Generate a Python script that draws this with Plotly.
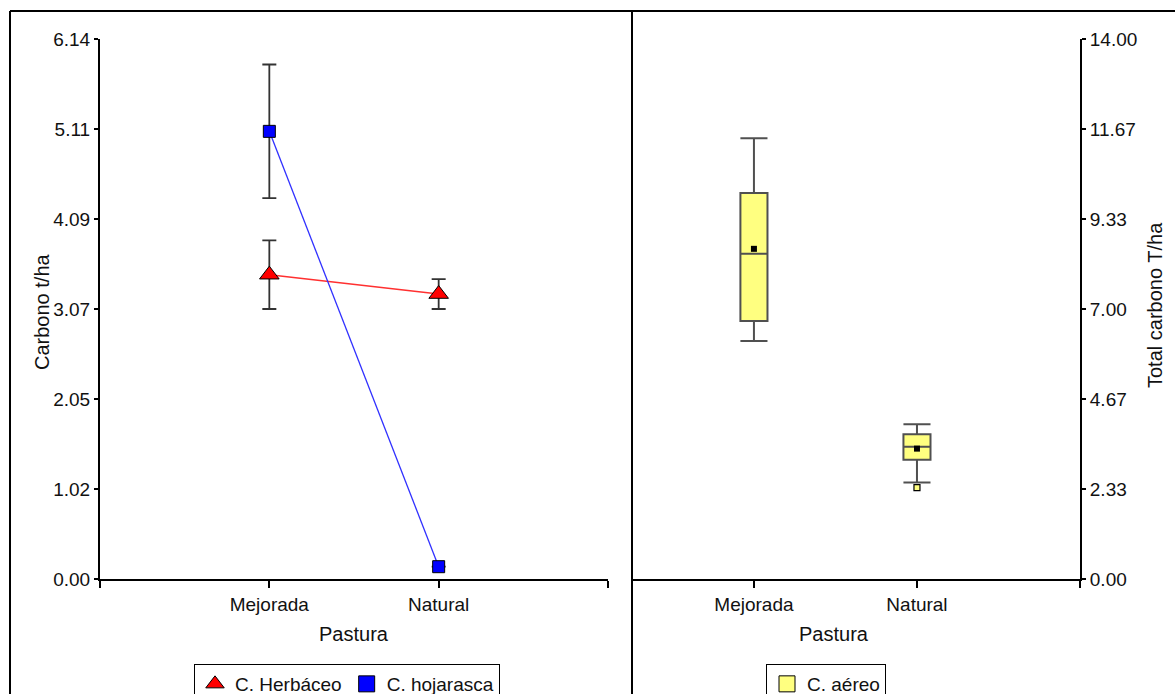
import plotly.graph_objects as go

# ---- data ----
pastura = ["Mejorada", "Natural"]
pastura_pos = [1, 2]

herbaceo_mean = [3.46, 3.24]
herbaceo_err = [0.39, 0.17]
hojarasca_mean = [5.09, 0.14]
hojarasca_err = [0.76, 0.0]

aereo_lower = [6.17, 2.50]
aereo_q1 = [6.69, 3.09]
aereo_median = [8.43, 3.43]
aereo_q3 = [10.01, 3.75]
aereo_upper = [11.43, 4.01]
aereo_mean = [8.56, 3.38]
aereo_outlier_pos = [2]
aereo_outlier = [2.37]

left_tick_vals = [0, 6.14 / 6, 2 * 6.14 / 6, 3 * 6.14 / 6, 4 * 6.14 / 6, 5 * 6.14 / 6, 6.14]
left_tick_text = ["0.00", "1.02", "2.05", "3.07", "4.09", "5.11", "6.14"]
right_tick_vals = [0, 14 / 6, 2 * 14 / 6, 3 * 14 / 6, 4 * 14 / 6, 5 * 14 / 6, 14]
right_tick_text = ["0.00", "2.33", "4.67", "7.00", "9.33", "11.67", "14.00"]

W, H = 1175, 694
FONT = "Liberation Sans, Arial, sans-serif"
TXT = "#111111"


def px(x):
    return x / W


def py(y):
    return 1 - y / H


fig = go.Figure()

# ---- left panel: means with error bars ----
fig.add_trace(go.Scatter(
    x=pastura_pos, y=herbaceo_mean, mode="lines+markers",
    line=dict(color="#FF3030", width=1.5),
    marker=dict(symbol="triangle-up", size=17, color="#FF0000",
                line=dict(color="black", width=1)),
    error_y=dict(type="data", array=herbaceo_err, color="#333333",
                 thickness=1.8, width=7),
    showlegend=False, xaxis="x", yaxis="y"))

fig.add_trace(go.Scatter(
    x=pastura_pos, y=hojarasca_mean, mode="lines+markers",
    line=dict(color="#3030FF", width=1.3),
    marker=dict(symbol="square", size=12, color="#0000FF",
                line=dict(color="black", width=1)),
    error_y=dict(type="data", array=hojarasca_err, color="#333333",
                 thickness=1.8, width=7),
    showlegend=False, xaxis="x", yaxis="y"))

# legend entries for the left panel
fig.add_trace(go.Scatter(
    x=[None], y=[None], mode="markers", name="C. Herbáceo",
    marker=dict(symbol="triangle-up", size=22, color="#FF0000",
                line=dict(color="black", width=1)),
    legend="legend", xaxis="x", yaxis="y"))
fig.add_trace(go.Scatter(
    x=[None], y=[None], mode="markers", name="C. hojarasca",
    marker=dict(symbol="square", size=20, color="#0000FF",
                line=dict(color="black", width=1)),
    legend="legend", xaxis="x", yaxis="y"))

# ---- right panel: box plot ----
fig.add_trace(go.Box(
    x=pastura_pos, q1=aereo_q1, median=aereo_median, q3=aereo_q3,
    lowerfence=aereo_lower, upperfence=aereo_upper,
    width=0.166, whiskerwidth=1,
    fillcolor="#FFFF80", line=dict(color="#505050", width=2),
    showlegend=False, xaxis="x2", yaxis="y2", hoverinfo="skip"))

fig.add_trace(go.Scatter(
    x=pastura_pos, y=aereo_mean, mode="markers",
    marker=dict(symbol="square", size=6, color="black"),
    showlegend=False, xaxis="x2", yaxis="y2"))

fig.add_trace(go.Scatter(
    x=aereo_outlier_pos, y=aereo_outlier, mode="markers",
    marker=dict(symbol="square", size=6, color="#FFFF80",
                line=dict(color="black", width=1.2)),
    showlegend=False, xaxis="x2", yaxis="y2"))

fig.add_trace(go.Scatter(
    x=[None], y=[None], mode="markers", name="C. aéreo",
    marker=dict(symbol="square", size=20, color="#FFFF80",
                line=dict(color="black", width=1)),
    legend="legend2", xaxis="x2", yaxis="y2"))

axis_common = dict(showline=True, linecolor="black", linewidth=2,
                   showgrid=False, zeroline=False, ticks="outside",
                   tickcolor="black", tickwidth=2,
                   tickfont=dict(family=FONT, size=19, color=TXT))

fig.update_layout(
    width=W, height=H,
    margin=dict(l=0, r=0, t=0, b=0, autoexpand=False),
    paper_bgcolor="white", plot_bgcolor="white",
    font=dict(family=FONT, size=19, color=TXT),
    xaxis=dict(domain=[px(100), px(608)], range=[0, 3],
               tickvals=[0, 1, 2, 3], ticktext=["", "Mejorada", "Natural", ""],
               ticklen=7, anchor="y", automargin=False, **axis_common),
    yaxis=dict(domain=[py(579), py(39)], range=[0, 6.14],
               tickvals=left_tick_vals, ticktext=left_tick_text,
               ticklen=4, anchor="x", automargin=False, **axis_common),
    xaxis2=dict(domain=[px(632), px(1080)], range=[0.252, 3],
                tickvals=[1, 2, 3], ticktext=["Mejorada", "Natural", ""],
                ticklen=7, anchor="y2", automargin=False, **axis_common),
    yaxis2=dict(domain=[py(579), py(39)], range=[0, 14],
                tickvals=right_tick_vals, ticktext=right_tick_text,
                ticklen=4, side="right", anchor="x2", automargin=False,
                **axis_common),
    legend=dict(orientation="h", x=px(194), y=py(664), xanchor="left",
                yanchor="top", bordercolor="black", borderwidth=1,
                bgcolor="white", font=dict(family=FONT, size=19, color=TXT),
                itemsizing="trace"),
    legend2=dict(orientation="h", x=px(766), y=py(664), xanchor="left",
                 yanchor="top", bordercolor="black", borderwidth=1,
                 bgcolor="white", font=dict(family=FONT, size=19, color=TXT),
                 itemsizing="trace"),
    showlegend=True,
)

# axis titles
titles = [
    dict(text="Carbono t/ha", x=px(42), y=py(312), textangle=-90),
    dict(text="Pastura", x=px(354), y=py(634), textangle=0),
    dict(text="Pastura", x=px(834), y=py(634), textangle=0),
    dict(text="Total carbono T/ha", x=px(1155), y=py(305), textangle=-90),
]
for t in titles:
    fig.add_annotation(xref="paper", yref="paper", showarrow=False,
                       xanchor="center", yanchor="middle",
                       font=dict(family=FONT, size=20, color=TXT), **t)

# panel frame
frame = dict(type="line", xref="paper", yref="paper",
             line=dict(color="black", width=2))
fig.add_shape(x0=px(10), x1=1, y0=py(11), y1=py(11), **frame)
fig.add_shape(x0=px(10), x1=px(10), y0=0, y1=py(11), **frame)
fig.add_shape(x0=px(632), x1=px(632), y0=0, y1=py(11), **frame)

fig.write_html("out.html")
